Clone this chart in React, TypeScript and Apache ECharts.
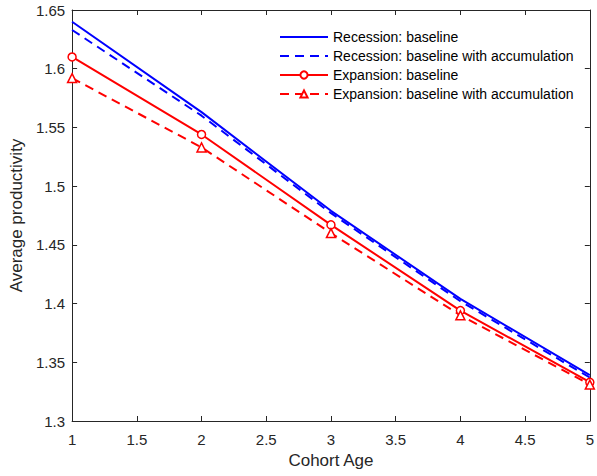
import React, { useEffect, useRef } from "react";
import * as echarts from "echarts";

const cohortAge = [1, 2, 3, 4, 5];
const recessionBaseline = [1.640, 1.563, 1.479, 1.404, 1.339];
const recessionAccum = [1.633, 1.560, 1.477, 1.402, 1.337];
const expansionBaseline = [1.610, 1.544, 1.467, 1.394, 1.333];
const expansionAccum = [1.592, 1.533, 1.460, 1.390, 1.331];
const seriesNames = [
  "Recession: baseline",
  "Recession: baseline with accumulation",
  "Expansion: baseline",
  "Expansion: baseline with accumulation",
];

const pairs = (ys: number[]) => cohortAge.map((x, i) => [x, ys[i]]);

export default function App() {
  const ref = useRef<HTMLDivElement>(null);
  useEffect(() => {
    if (!ref.current) return;
    const chart = echarts.init(ref.current, undefined, { renderer: "svg" });
    const axisColor = "#262626";
    const font = "Liberation Sans, Arial, Helvetica, sans-serif";
    const fmt = (v: number) => String(Number(v.toFixed(2)));
    const xBase = {
      type: "value",
      min: 1,
      max: 5,
      interval: 0.5,
      axisLine: { show: true, lineStyle: { color: axisColor, width: 1 } },
      axisTick: { show: true, inside: true, length: 5, lineStyle: { color: axisColor } },
      splitLine: { show: false },
    };
    const yBase = {
      type: "value",
      min: 1.3,
      max: 1.65,
      interval: 0.05,
      axisLine: { show: true, lineStyle: { color: axisColor, width: 1 } },
      axisTick: { show: true, inside: true, length: 5, lineStyle: { color: axisColor } },
      splitLine: { show: false },
    };
    chart.setOption({
      animation: false,
      backgroundColor: "#ffffff",
      textStyle: { fontFamily: font },
      grid: { left: 71, right: 5, top: 10, bottom: 55, containLabel: false },
      legend: {
        orient: "vertical",
        left: 274,
        top: 25,
        itemGap: 5,
        itemWidth: 48,
        itemHeight: 9,
        textStyle: { fontSize: 14, color: "#000000", fontFamily: font, padding: [0, 0, 0, 0] },
        data: [
          { name: seriesNames[0], itemStyle: { opacity: 0 } },
          { name: seriesNames[1], itemStyle: { opacity: 0 } },
          { name: seriesNames[2] },
          { name: seriesNames[3] },
        ],
      },
      xAxis: [
        {
          ...xBase,
          position: "bottom",
          name: "Cohort Age",
          nameLocation: "middle",
          nameGap: 30,
          nameTextStyle: { fontSize: 17, color: axisColor, fontFamily: font },
          axisLabel: { color: axisColor, fontSize: 15, margin: 11, fontFamily: font, formatter: fmt },
        },
        { ...xBase, position: "top", axisLabel: { show: false } },
      ],
      yAxis: [
        {
          ...yBase,
          position: "left",
          name: "Average productivity",
          nameLocation: "middle",
          nameGap: 38,
          nameTextStyle: { fontSize: 17, color: axisColor, fontFamily: font },
          axisLabel: { color: axisColor, fontSize: 15, margin: 7, fontFamily: font, formatter: fmt },
        },
        { ...yBase, position: "right", axisLabel: { show: false } },
      ],
      series: [
        {
          name: seriesNames[0],
          type: "line",
          data: pairs(recessionBaseline),
          symbol: "none",
          lineStyle: { color: "#0000ff", width: 2 },
          itemStyle: { color: "#0000ff" },
          z: 4,
        },
        {
          name: seriesNames[1],
          type: "line",
          data: pairs(recessionAccum),
          symbol: "none",
          lineStyle: { color: "#0000ff", width: 2, type: [9, 6] },
          itemStyle: { color: "#0000ff" },
          z: 3,
        },
        {
          name: seriesNames[2],
          type: "line",
          data: pairs(expansionBaseline),
          symbol: "circle",
          symbolSize: 8,
          showAllSymbol: true,
          lineStyle: { color: "#ff0000", width: 2 },
          itemStyle: { color: "#ffffff", borderColor: "#ff0000", borderWidth: 1.5 },
          z: 5,
        },
        {
          name: seriesNames[3],
          type: "line",
          data: pairs(expansionAccum),
          symbol: "triangle",
          symbolSize: 9,
          showAllSymbol: true,
          lineStyle: { color: "#ff0000", width: 2, type: [9, 6] },
          itemStyle: { color: "#ffffff", borderColor: "#ff0000", borderWidth: 1.5 },
          z: 5,
        },
      ],
    });
    return () => chart.dispose();
  }, []);
  return <div ref={ref} style={{ width: 597, height: 476, position: "absolute", left: 0, top: 0 }} />;
}
